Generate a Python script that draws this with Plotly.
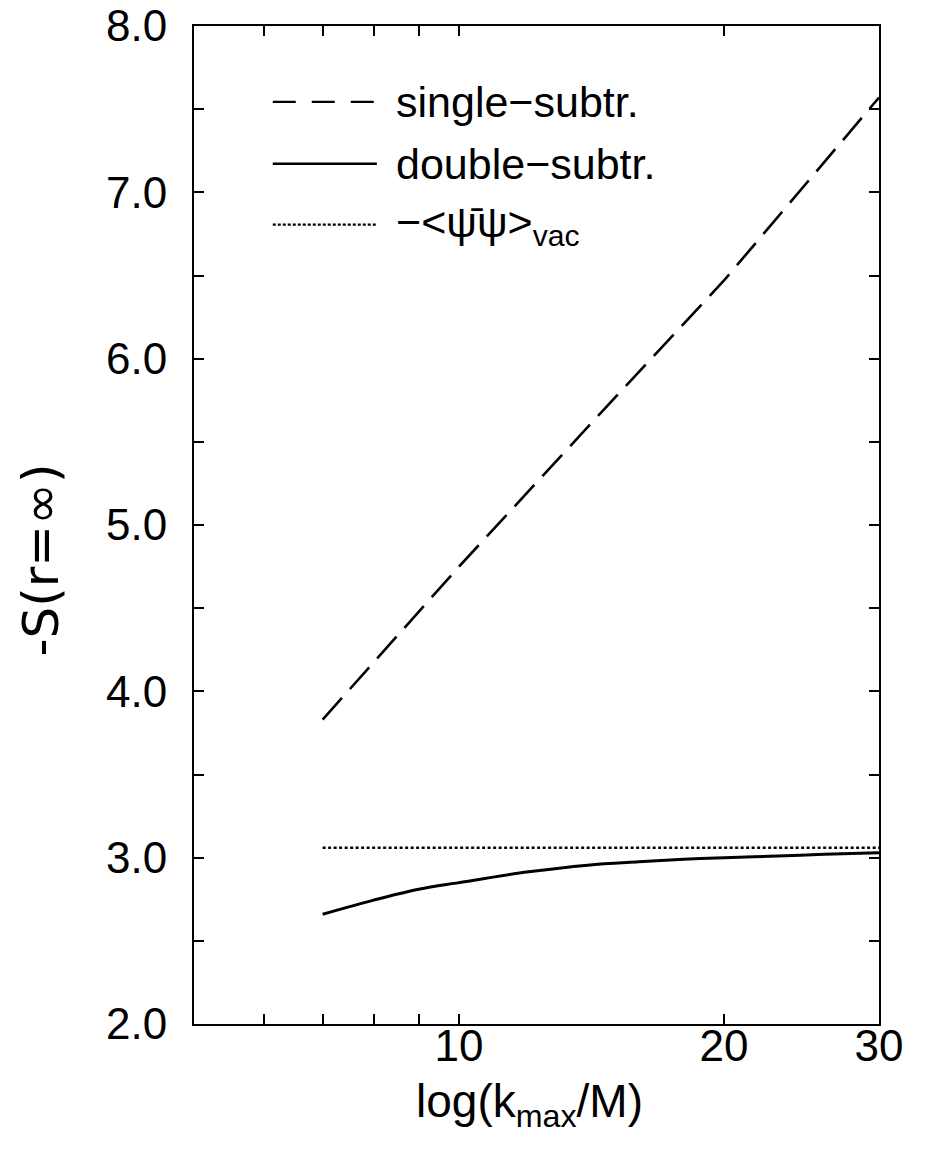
import plotly.graph_objects as go

# data
k_single = [7, 10, 15, 20, 30]
s_single = [3.83, 4.75, 5.76, 6.47, 7.57]

k_double = [7, 8, 9, 10, 12, 14, 16, 18, 20, 23, 26, 30]
s_double = [2.66, 2.745, 2.81, 2.85, 2.915, 2.955, 2.975, 2.99, 3.00, 3.01, 3.02, 3.03]

k_vac = [7, 30]
s_vac = [3.06, 3.06]

x_ticks = [10, 20, 30]
x_minor = [5, 6, 7, 8, 9]
y_ticks = [2, 3, 4, 5, 6, 7, 8]

legend_labels = ["single\u2212subtr.", "double\u2212subtr.",
                 "\u2212<\u03c8\u0304\u03c8><sub>vac</sub>"]
x_title = "log(k<sub>max</sub>/M)"
y_title = "-S(r=\u221e)"

FONT = "Liberation Sans, Arial, Helvetica, sans-serif"

fig = go.Figure()
fig.add_trace(go.Scatter(x=k_single, y=s_single, mode="lines",
                         line=dict(color="black", width=2.6, dash="29px,12px"),
                         showlegend=False))
fig.add_trace(go.Scatter(x=k_double, y=s_double, mode="lines",
                         line=dict(color="black", width=3, shape="spline"),
                         showlegend=False))
fig.add_trace(go.Scatter(x=k_vac, y=s_vac, mode="lines",
                         line=dict(color="black", width=2.4, dash="3px,2.5px"),
                         showlegend=False))

# manual legend (paper coords)
styles = [("23px,16px", 2.4), ("solid", 2.6), ("3px,2px", 2.2)]
rows_y = [0.924, 0.862, 0.801]
for (dash, w), yy, lab in zip(styles, rows_y, legend_labels):
    fig.add_shape(type="line", xref="paper", yref="paper",
                  x0=0.115, x1=0.267, y0=yy, y1=yy,
                  line=dict(color="black", width=w, dash=dash))
    fig.add_annotation(xref="paper", yref="paper", x=0.292, y=yy,
                       text=lab, showarrow=False, xanchor="left", yanchor="middle",
                       font=dict(family=FONT, size=43, color="black"))

# axis titles placed as text, as in the reference
fig.add_annotation(xref="paper", yref="paper", x=-0.224, y=0.465,
                   text=y_title, textangle=-90, showarrow=False,
                   xanchor="center", yanchor="middle",
                   font=dict(family="DejaVu Sans, sans-serif", size=50, color="black"))
fig.add_annotation(xref="paper", yref="paper", x=0.49, y=-0.081,
                   text=x_title, showarrow=False,
                   xanchor="center", yanchor="middle",
                   font=dict(family=FONT, size=46, color="black"))

axis_common = dict(showline=True, linecolor="black", linewidth=2, mirror="ticks",
                   ticks="inside", ticklen=10, tickwidth=2, tickcolor="black",
                   showgrid=False, zeroline=False, ticklabeloverflow="allow",
                   automargin=False,
                   tickfont=dict(family=FONT, size=44, color="black"))

fig.update_xaxes(type="log", range=[0.69897, 1.4771], tickmode="array",
                 tickvals=x_ticks, ticktext=[str(v) for v in x_ticks],
                 minor=dict(tickmode="array", tickvals=x_minor, ticks="inside",
                            ticklen=10, tickwidth=2, tickcolor="black"),
                 ticklabelstandoff=-18,
                 **axis_common)
fig.update_yaxes(range=[2, 8], tickmode="array", tickvals=y_ticks,
                 ticktext=[f"{v:.1f}" for v in y_ticks],
                 minor=dict(dtick=0.5, ticks="inside", ticklen=10, tickwidth=2,
                            tickcolor="black"),
                 ticklabelstandoff=16,
                 **axis_common)

fig.update_layout(width=930, height=1167, plot_bgcolor="white", paper_bgcolor="white",
                  margin=dict(l=186, r=59, t=18, b=151, pad=0, autoexpand=False),
                  font=dict(family=FONT, color="black"))

fig.write_html("out.html")
